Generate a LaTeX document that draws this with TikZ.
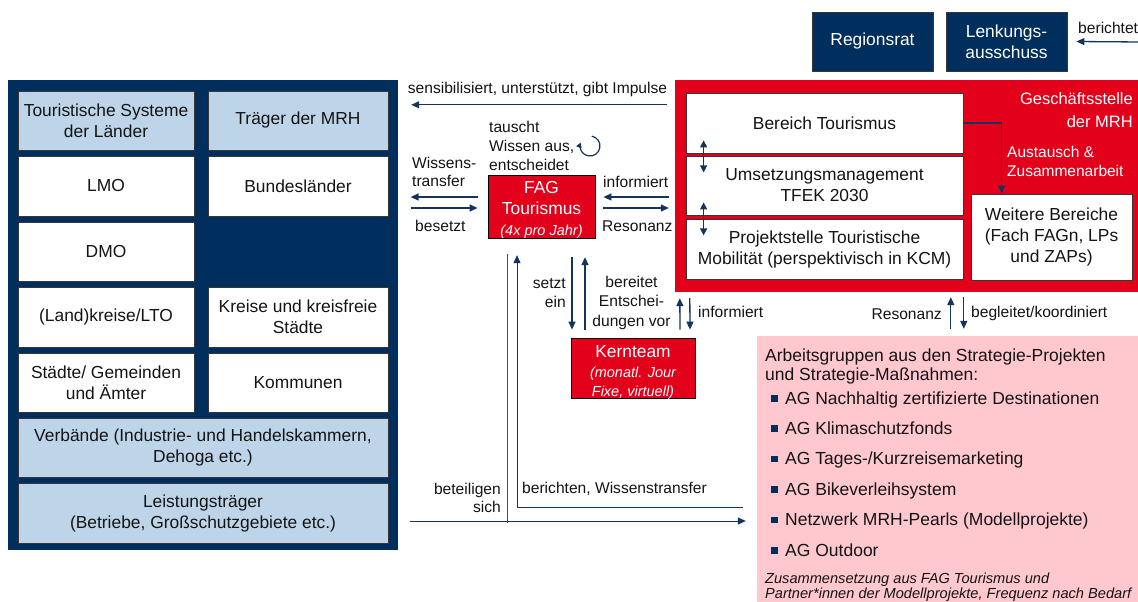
\documentclass[tikz,border=0pt]{standalone}
\usepackage{fontspec}
\setmainfont{Liberation Sans}
\usetikzlibrary{arrows.meta}
\definecolor{navy}{RGB}{0,47,94}
\definecolor{arrc}{RGB}{20,52,96}
\definecolor{mred}{RGB}{226,0,26}
\definecolor{pinkbg}{RGB}{255,199,206}
\definecolor{lightb}{RGB}{190,213,233}
\definecolor{boxline}{RGB}{55,55,55}
\definecolor{txt}{RGB}{20,20,20}
\newcommand\myBig{\fontsize{17.4}{21}\selectfont}
\newcommand\myLab{\fontsize{15.6}{18.8}\selectfont}
\newcommand\mySmallIt{\fontsize{14.5}{18.3}\selectfont\itshape}
\newcommand\myPink{\fontsize{17.5}{19}\selectfont}
\newcommand\myFoot{\fontsize{14.6}{15}\selectfont\itshape}
\newcommand\myBul{\textcolor{navy}{\rule[2.5pt]{6.5pt}{6.5pt}}\hspace{7.5pt}}
\begin{document}
\begin{tikzpicture}[x=1pt,y=-1pt,
  bx/.style 2 args={minimum width=#1, minimum height=#2},
  box/.style={draw=boxline, line width=0.8pt, inner sep=0pt, align=center, font=\myBig, text=txt},
  wbox/.style={box, fill=white},
  lbbox/.style={box, fill=lightb},
  redbox/.style={draw=black, line width=0.8pt, fill=mred, inner sep=0pt, align=center, text=white, font=\myBig},
  navybox/.style={draw=boxline, line width=0.8pt, fill=navy, inner sep=0pt, align=center, text=white, font=\myBig},
  panel/.style={inner sep=0pt, draw=none},
  arr/.style={draw=arrc, line width=1.3pt, -{Triangle[length=8pt,width=7pt]}},
  darr/.style={draw=arrc, line width=1.3pt, {Triangle[length=7pt,width=7pt]}-{Triangle[length=7pt,width=7pt]}},
  thinarr/.style={draw=arrc, line width=1pt, -{Triangle[length=8pt,width=7pt]}},
  thinline/.style={draw=arrc!85!white, line width=1pt},
  lab/.style={font=\myLab, text=txt, inner sep=0pt},
  item/.style={font=\myPink, text=txt, inner sep=0pt, anchor=base west}]
\useasboundingbox (0,0) rectangle (1138,602);
\fill[white] (0,0) rectangle (1138,602);

% ---------- left panel ----------
\node[panel, fill=navy, bx={390}{470}] (lp) at (203,315) {};
\node[lbbox, bx={176}{59}] (tsl) at (106,120.5) {Touristische Systeme\\der Länder};
\node[lbbox, bx={180}{59}] (tmrh) at (298,120.5) {Träger der MRH};
\node[wbox, bx={176}{60}] (lmo) at (106,186) {LMO};
\node[wbox, bx={180}{60}] (bl) at (298,186) {Bundesländer};
\node[wbox, bx={176}{59}] (dmo) at (106,251.5) {DMO};
\node[wbox, bx={176}{60}] (lk) at (106,317) {(Land)kreise/LTO};
\node[wbox, bx={180}{60}] (kks) at (298,317) {Kreise und kreisfreie\\Städte};
\node[wbox, bx={176}{59}] (sga) at (106,382.5) {Städte/ Gemeinden\\und Ämter};
\node[wbox, bx={180}{59}] (kom) at (298,382.5) {Kommunen};
\node[lbbox, bx={370}{59}] (verb) at (203,447.5) {Verbände (Industrie- und Handelskammern,\\Dehoga etc.)};
\node[lbbox, bx={370}{60}] (leis) at (203,513) {Leistungsträger\\(Betriebe, Großschutzgebiete etc.)};

% ---------- top right ----------
\node[navybox, bx={121}{59}] (rr) at (872.5,41.5) {Regionsrat};
\node[navybox, bx={121}{59}] (la) at (1006.5,41.5) {Lenkungs-\\ausschuss};
\node[lab, anchor=west] (lber) at (1078,28) {berichtet};
\draw[arr] ([shift={(73,0.5)}]la.east) -- ([xshift=9]la.east);

% ---------- Geschaeftsstelle ----------
\node[panel, fill=mred, bx={470}{212}] (gs) at (910,186) {};
\node[inner sep=0pt, anchor=east, align=right, text=white, font=\fontsize{16.5}{23.5}\selectfont] (gsl) at (1133,110) {Geschäftsstelle\\der MRH};
\node[wbox, bx={277}{60}] (bt) at (824.5,123) {Bereich Tourismus};
\node[wbox, bx={277}{59}] (um) at (824.5,185.5) {Umsetzungsmanagement\\TFEK 2030};
\node[wbox, bx={277}{60}] (ps) at (824.5,249) {Projektstelle Touristische\\Mobilität (perspektivisch in KCM)};
\node[wbox, bx={161}{86}] (wb) at (1051.5,237) {Weitere Bereiche\\(Fach FAGn, LPs\\und ZAPs)};
\draw[arr] (bt.east) -| ([xshift=31]wb.north west);
\node[inner sep=0pt, anchor=west, align=left, text=white, font=\fontsize{15.5}{19.3}\selectfont] (aus) at (1007,161.5) {Austausch \&\\Zusammenarbeit};
\draw[darr] ([shift={(18,-13)}]bt.south west) -- ([shift={(18,19)}]bt.south west);
\draw[darr] ([shift={(18,-13)}]um.south west) -- ([shift={(18,20)}]um.south west);

% ---------- top arrow ----------
\node[lab] (lsens) at (537.5,89) {sensibilisiert, unterstützt, gibt Impulse};
\draw[arr] ([shift={(-8,25)}]gs.north west) -- ([shift={(13,25)}]lp.north east);

% ---------- FAG ----------
\node[redbox, bx={107}{60}] (fag) at (541.5,207) {\rule{0pt}{18.5pt}FAG\\Tourismus\\{\mySmallIt (4x pro Jahr)}};
\node[lab, anchor=west, align=left, font=\fontsize{15.6}{19}\selectfont] (ltau) at (489,146) {tauscht\\Wissen aus,\\entscheidet};
\coordinate (cyc) at (590,146);
\draw[draw=arrc, line width=1.2pt, -{Triangle[length=5pt,width=5.5pt]}] (cyc) ++(-80:10) arc[start angle=-80, end angle=200, radius=10];

\node[lab, anchor=west, align=left] (lwis) at (412,172) {Wissens-\\transfer};
\draw[arr] ([shift={(-10,-10)}]fag.west) -- ([shift={(-77,-10)}]fag.west);
\draw[arr] ([shift={(-77,1)}]fag.west) -- ([shift={(-10,1)}]fag.west);
\node[lab, anchor=west] (lbes) at (415,226) {besetzt};

\node[lab, anchor=west] (linf) at (603,182) {informiert};
\draw[arr] ([shift={(-6,11)}]gs.west) -- ([shift={(8,-10)}]fag.east);
\draw[arr] ([shift={(8,1)}]fag.east) -- ([shift={(-6,22)}]gs.west);
\node[lab, anchor=west] (lres) at (602,226) {Resonanz};

% ---------- Kernteam ----------
\node[redbox, inner ysep=-4pt, bx={124}{60}] (kt) at (633,368) {\rule{0pt}{21pt}Kernteam\\[-1pt]{\mySmallIt (monatl. Jour}\\[-2pt]{\mySmallIt Fixe, virtuell)}};
\draw[arr] ([shift={(30.5,18)}]fag.south) -- ([shift={(-61,-8)}]kt.north);
\draw[arr] ([shift={(-48,-8)}]kt.north) -- ([shift={(43.5,18)}]fag.south);
\node[lab, anchor=east, align=right, font=\fontsize{15.6}{19.5}\selectfont] (lset) at (566,293) {setzt\\ein};
\node[lab, align=center, font=\fontsize{15.6}{19.5}\selectfont] (lber2) at (631.5,302.5) {bereitet\\Entschei-\\dungen vor};
\draw[arr] ([shift={(47,-8)}]kt.north) -- ([shift={(5,6)}]gs.south west);
\draw[arr] ([shift={(15,6)}]gs.south west) -- ([shift={(57,-8)}]kt.north);
\node[lab, anchor=west] (linf2) at (698,312) {informiert};

% ---------- Arbeitsgruppen ----------
\node[panel, fill=pinkbg, bx={388}{274}] (ag) at (951,473) {};
\draw[arr] ([shift={(194,-7)}]ag.north west) -- ([shift={(276,5)}]gs.south west);
\draw[arr] ([shift={(289,5)}]gs.south west) -- ([shift={(207,-7)}]ag.north west);
\node[lab, anchor=east] (lres2) at (942,314) {Resonanz};
\node[lab, anchor=west] (lbeg) at (971,313) {begleitet/koordiniert};

\node[inner sep=0pt, anchor=west, align=left, font=\myPink, text=txt] (agh) at (765,366) {Arbeitsgruppen aus den Strategie-Projekten\\und Strategie-Maßnahmen:};
\node[item] (i1) at (771,404) {\myBul AG Nachhaltig zertifizierte Destinationen};
\node[item] (i2) at (771,434.4) {\myBul AG Klimaschutzfonds};
\node[item] (i3) at (771,464.8) {\myBul AG Tages-/Kurzreisemarketing};
\node[item] (i4) at (771,495.2) {\myBul AG Bikeverleihsystem};
\node[item] (i5) at (771,525.6) {\myBul Netzwerk MRH-Pearls (Modellprojekte)};
\node[item] (i6) at (771,556) {\myBul AG Outdoor};
\node[inner sep=0pt, anchor=west, align=left, font=\myFoot, text=txt] (agf) at (765,587) {Zusammensetzung aus FAG Tourismus und\\Partner*innen der Modellprojekte, Frequenz nach Bedarf};

% ---------- bottom connectors ----------
\draw[thinline] ([shift={(-34.5,15)}]fag.south) -- ++(0,269);
\draw[thinarr] ([shift={(12,206)}]lp.east) -- ([shift={(-11,48)}]ag.west);
\draw[thinarr] ([shift={(-14,34)}]ag.west) -| ([shift={(-24.5,16)}]fag.south);
\node[lab, anchor=east, align=right, font=\fontsize{15.6}{18}\selectfont] (lbet) at (501,498) {beteiligen\\sich};
\node[lab, anchor=west] (lberi) at (522,489) {berichten, Wissenstransfer};
\end{tikzpicture}
\end{document}
